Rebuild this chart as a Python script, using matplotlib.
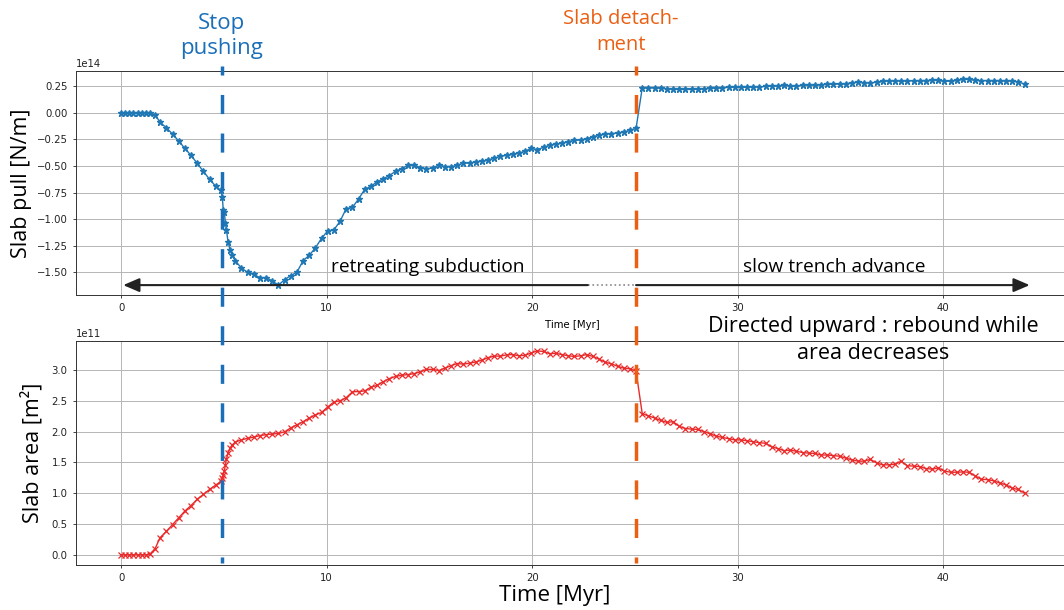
import matplotlib
matplotlib.use('Agg')
import matplotlib.pyplot as plt
from matplotlib.ticker import MultipleLocator
from matplotlib.lines import Line2D
from matplotlib.transforms import blended_transform_factory

# model output times [Myr]
time_early = [0.0, 0.2, 0.4, 0.6, 0.8, 1.0, 1.2, 1.4, 1.65, 1.9,
              2.2, 2.5, 2.8, 3.1, 3.4, 3.7, 4.0, 4.3, 4.6, 4.85,
              4.92, 4.97, 5.02, 5.07, 5.12, 5.2, 5.3, 5.4]
time_late = [5.55, 5.85, 6.15, 6.45, 6.75, 7.05, 7.35, 7.65, 7.95, 8.25,
             8.55, 8.85, 9.15, 9.45, 9.75, 10.05, 10.35, 10.65, 10.95, 11.25,
             11.55, 11.85, 12.15, 12.45, 12.75, 13.05, 13.35, 13.65, 13.95, 14.25,
             14.55, 14.85, 15.15, 15.45, 15.75, 16.05, 16.35, 16.65, 16.95, 17.25,
             17.55, 17.85, 18.15, 18.45, 18.75, 19.05, 19.35, 19.65, 19.95, 20.25,
             20.55, 20.85, 21.15, 21.45, 21.75, 22.05, 22.35, 22.65, 22.95, 23.25,
             23.55, 23.85, 24.15, 24.45, 24.75, 25.05, 25.35, 25.65, 25.95, 26.25,
             26.55, 26.85, 27.15, 27.45, 27.75, 28.05, 28.35, 28.65, 28.95, 29.25,
             29.55, 29.85, 30.15, 30.45, 30.75, 31.05, 31.35, 31.65, 31.95, 32.25,
             32.55, 32.85, 33.15, 33.45, 33.75, 34.05, 34.35, 34.65, 34.95, 35.25,
             35.55, 35.85, 36.15, 36.45, 36.75, 37.05, 37.35, 37.65, 37.95, 38.25,
             38.55, 38.85, 39.15, 39.45, 39.75, 40.05, 40.35, 40.65, 40.95, 41.25,
             41.55, 41.85, 42.15, 42.45, 42.75, 43.05, 43.35, 43.65, 43.95]

# slab pull in 1e14 N/m
pull_early = [0.0, 0.0, 0.0, 0.0, 0.0, 0.0, 0.0, -0.005, -0.02, -0.09,
              -0.14, -0.20, -0.265, -0.335, -0.40, -0.475, -0.55, -0.625, -0.69, -0.73,
              -0.79, -0.915, -0.93, -1.04, -1.10, -1.21, -1.29, -1.34]
pull_late = [-1.39, -1.46, -1.50, -1.52, -1.55, -1.55, -1.58, -1.62, -1.57, -1.53,
             -1.50, -1.39, -1.34, -1.27, -1.18, -1.11, -1.10, -1.02, -0.90, -0.89,
             -0.81, -0.72, -0.69, -0.65, -0.62, -0.59, -0.55, -0.525, -0.495, -0.49,
             -0.515, -0.525, -0.52, -0.49, -0.505, -0.505, -0.495, -0.47, -0.475, -0.46,
             -0.455, -0.445, -0.425, -0.41, -0.40, -0.39, -0.38, -0.36, -0.335, -0.345,
             -0.325, -0.305, -0.295, -0.285, -0.27, -0.26, -0.255, -0.245, -0.225, -0.21,
             -0.20, -0.195, -0.19, -0.18, -0.165, -0.145, 0.234, 0.234, 0.234, 0.232,
             0.226, 0.22, 0.22, 0.22, 0.22, 0.222, 0.226, 0.23, 0.232, 0.235,
             0.24, 0.24, 0.24, 0.24, 0.243, 0.244, 0.248, 0.253, 0.255, 0.257,
             0.254, 0.252, 0.26, 0.26, 0.262, 0.264, 0.27, 0.27, 0.27, 0.272,
             0.283, 0.288, 0.283, 0.283, 0.286, 0.295, 0.30, 0.30, 0.30, 0.30,
             0.302, 0.303, 0.303, 0.305, 0.304, 0.295, 0.298, 0.305, 0.314, 0.314,
             0.305, 0.303, 0.303, 0.303, 0.303, 0.30, 0.30, 0.29, 0.27]

# slab area in 1e11 m^2
area_early = [0.0, 0.0, 0.0, 0.0, 0.0, 0.0, 0.0, 0.01, 0.10, 0.28,
              0.38, 0.49, 0.60, 0.71, 0.80, 0.90, 0.98, 1.06, 1.13, 1.19,
              1.24, 1.30, 1.36, 1.46, 1.55, 1.65, 1.73, 1.78]
area_late = [1.83, 1.865, 1.89, 1.91, 1.935, 1.95, 1.96, 1.97, 1.995, 2.06,
             2.11, 2.16, 2.22, 2.27, 2.31, 2.40, 2.48, 2.50, 2.55, 2.645,
             2.65, 2.66, 2.72, 2.75, 2.81, 2.86, 2.895, 2.915, 2.925, 2.94,
             2.97, 3.01, 3.01, 2.99, 3.03, 3.07, 3.105, 3.095, 3.11, 3.13,
             3.16, 3.20, 3.225, 3.225, 3.245, 3.25, 3.23, 3.24, 3.275, 3.31,
             3.30, 3.265, 3.27, 3.25, 3.23, 3.22, 3.23, 3.25, 3.22, 3.175,
             3.125, 3.10, 3.06, 3.03, 3.02, 2.98, 2.29, 2.255, 2.22, 2.18,
             2.15, 2.16, 2.085, 2.05, 2.04, 2.035, 2.00, 1.965, 1.925, 1.905,
             1.885, 1.865, 1.865, 1.85, 1.835, 1.82, 1.81, 1.75, 1.725, 1.69,
             1.70, 1.68, 1.66, 1.65, 1.645, 1.62, 1.62, 1.61, 1.60, 1.57,
             1.54, 1.52, 1.52, 1.55, 1.49, 1.46, 1.46, 1.47, 1.52, 1.445,
             1.44, 1.43, 1.40, 1.39, 1.41, 1.36, 1.34, 1.34, 1.345, 1.34,
             1.28, 1.225, 1.22, 1.20, 1.165, 1.135, 1.08, 1.06, 1.0]

time = time_early + time_late
slab_pull = [v * 1e14 for v in pull_early + pull_late]
slab_area = [v * 1e11 for v in area_early + area_late]

# events [Myr]
t_stop_push = 4.9
t_detach = 25.05

# regime arrow along the bottom of the slab pull panel
arrow_y = -1.62e14
arrow_left = 0.1
arrow_break = 22.7
arrow_right = 44.2

c_pull = '#1f77b4'
c_area = '#ea2a2a'
c_push = '#1a6fb8'
c_detach = '#ea5f12'
annot_font = 'Open Sans'

plt.rcParams['font.family'] = 'DejaVu Sans'
plt.rcParams['axes.linewidth'] = 0.7

fig = plt.figure(figsize=(10.64, 6.10), dpi=100)
ax1 = fig.add_axes([0.0714, 0.5164, 0.934, 0.367])
ax2 = fig.add_axes([0.0714, 0.0738, 0.934, 0.3677])

ax1.plot(time, slab_pull, '-*', color=c_pull, lw=1.0, ms=5)
ax2.plot(time, slab_area, '-x', color=c_area, lw=1.0, ms=4.5, mew=0.9)

for ax in (ax1, ax2):
    ax.grid(True, color='#b5b5b5', lw=0.7)
    ax.set_axisbelow(True)
    ax.xaxis.set_major_locator(MultipleLocator(10))
    ax.tick_params(labelsize=7.3, length=2.5, width=0.6, colors='#222222')
    ax.yaxis.get_offset_text().set_fontsize(7.3)
    for sp in ax.spines.values():
        sp.set_color('#333333')

ax1.yaxis.set_major_locator(MultipleLocator(0.25e14))
ax1.set_ylim(-1.713e14, 0.392e14)
ax2.yaxis.set_major_locator(MultipleLocator(0.5e11))

ax1.set_xlabel('Time [Myr]', fontsize=7.3, labelpad=5)
ax1.set_ylabel('Slab pull [N/m]', family=annot_font, fontsize=15.5, labelpad=3)
ax2.set_ylabel('Slab area [m²]', family=annot_font, fontsize=15.5, labelpad=6)
ax2.set_xlabel('Time [Myr]', family=annot_font, fontsize=16, labelpad=0)
ax2.xaxis.set_label_coords(0.482, -0.09)

# regime arrows
head = '-|>,head_length=0.7,head_width=0.3'
ax1.annotate('', xy=(arrow_left, arrow_y), xytext=(arrow_break, arrow_y),
             arrowprops=dict(arrowstyle=head, mutation_scale=14, lw=1.5,
                             color='#222222', shrinkA=0, shrinkB=0))
ax1.annotate('', xy=(arrow_right, arrow_y), xytext=(t_detach, arrow_y),
             arrowprops=dict(arrowstyle=head, mutation_scale=14, lw=1.5,
                             color='#222222', shrinkA=0, shrinkB=0))
ax1.plot([arrow_break, t_detach], [arrow_y, arrow_y], ls=':', lw=1.2,
         color='#888888', scalex=False, scaley=False)
ax1.text(14.9, -1.45e14, 'retreating subduction', family=annot_font,
         fontsize=13.8, ha='center', va='center')
ax1.text(34.7, -1.45e14, 'slow trench advance', family=annot_font,
         fontsize=13.8, ha='center', va='center')

# event markers spanning both panels
trans = blended_transform_factory(ax1.transData, fig.transFigure)
for t, c in ((t_stop_push, c_push), (t_detach, c_detach)):
    fig.add_artist(Line2D([t, t], [0.892, 0.077], transform=trans, color=c,
                          lw=2.5, linestyle=(2.9, (5.5, 5.6))))
fig.text(t_stop_push, 0.941, 'Stop\npushing', transform=trans, color=c_push,
         family=annot_font, fontsize=16, ha='center', va='center', linespacing=1.2)
fig.text(24.3, 0.948, 'Slab detach-\nment', transform=trans, color=c_detach,
         family=annot_font, fontsize=14.5, ha='center', va='center', linespacing=1.4)

fig.text(36.6, 0.443, 'Directed upward : rebound while\narea decreases',
         transform=trans, family=annot_font, fontsize=15.5, ha='center',
         va='center', linespacing=1.35)

fig.savefig('out.png', dpi=100)
